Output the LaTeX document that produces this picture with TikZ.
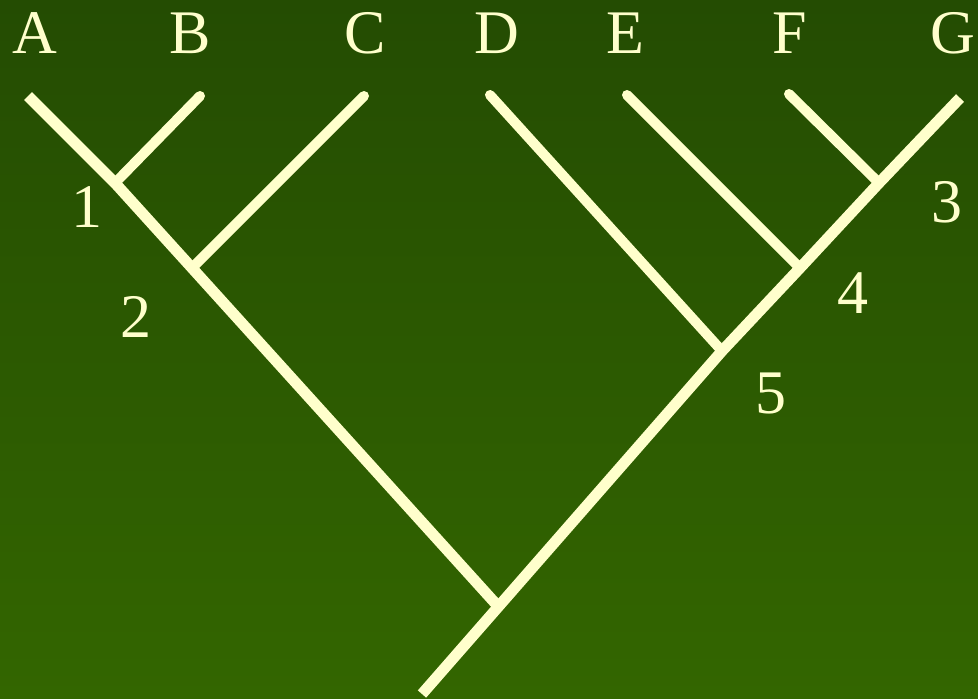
\documentclass[tikz,border=0pt]{standalone}
\usepackage{fontspec}
\setmainfont{Liberation Serif}
\definecolor{bgtop}{RGB}{36,76,2}
\definecolor{bgbot}{RGB}{51,102,0}
\definecolor{ink}{RGB}{255,255,204}
\begin{document}
\begin{tikzpicture}[x=1pt,y=-1pt,
  leaf/.style={draw=ink,line width=10pt,line cap=round},
  trunk/.style={draw=ink,line width=11pt,line cap=butt,line join=miter},
  lbl/.style={text=ink,inner sep=0pt,font=\fontsize{62}{70}\selectfont}]
\useasboundingbox (0,0) rectangle (978,699);
\shade[top color=bgtop,bottom color=bgbot] (0,0) rectangle (978,699);
\begin{scope}
\clip (0,0) rectangle (978,699);
% coordinates
\coordinate (tA) at (28,96);
\coordinate (tB) at (200,96);
\coordinate (tC) at (364,96);
\coordinate (tD) at (490,95);
\coordinate (tE) at (627,95);
\coordinate (tF) at (789,94);
\coordinate (tG) at (960,98);
\coordinate (j1) at (115,183);
\coordinate (j2) at (192,268);
\coordinate (j3) at (879,183);
\coordinate (j4) at (800,268);
\coordinate (j5) at (722,351);
\coordinate (jr) at (496,604);
\coordinate (root) at (422,694);
% leaves
\draw[leaf] (tB) -- (j1);
\draw[leaf] (tC) -- (j2);
\draw[leaf] (tD) -- (j5);
\draw[leaf] (tE) -- (j4);
\draw[leaf] (tF) -- (j3);
% trunks
\draw[trunk] (tA) -- (j1) -- (j2) -- (jr);
\draw[trunk] (tG) -- (j3) -- (j4) -- (j5) -- (root);
\end{scope}
% labels
\node[lbl] (A) at (35,33) {A};
\node[lbl] (B) at (190,33) {B};
\node[lbl] (C) at (365,33) {C};
\node[lbl] (D) at (497,33) {D};
\node[lbl] (E) at (625,33) {E};
\node[lbl] (F) at (790,33) {F};
\node[lbl] (G) at (953,33) {G};
\node[lbl] (n1) at (87,207) {1};
\node[lbl] (n2) at (136,317) {2};
\node[lbl] (n3) at (947,202) {3};
\node[lbl] (n4) at (853,293) {4};
\node[lbl] (n5) at (771,393) {5};
\end{tikzpicture}
\end{document}
